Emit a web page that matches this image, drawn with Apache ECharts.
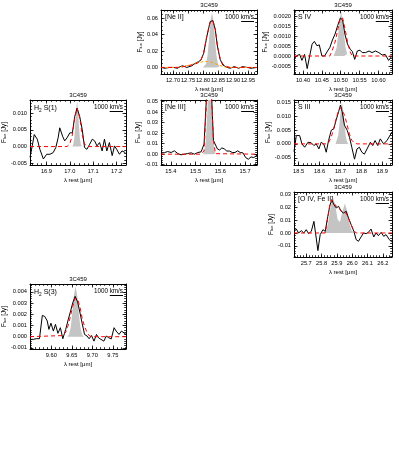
<!DOCTYPE html>
<html><head><meta charset="utf-8">
<script src="https://cdn.jsdelivr.net/npm/echarts/dist/echarts.min.js"></script>
<style>html,body{margin:0;padding:0;background:#fff}#c{width:399px;height:460px}</style>
</head><body><div id="c"></div>
<script>
// ---------------- DATA ----------------
// [Ne II]
const neII_wave = [12.660,12.673,12.688,12.701,12.715,12.724,12.732,12.746,12.763,12.774,12.785,12.793,12.802,12.813,12.824,12.833,12.841,12.848,12.857,12.866,12.880,12.891,12.904,12.919,12.932,12.947,12.960,12.980];
const neII_flux = [0.000,-0.001,0.000,0.000,-0.001,0.001,0.002,0.000,0.002,0.005,0.007,0.009,0.017,0.038,0.056,0.057,0.046,0.026,0.010,0.003,0.000,-0.001,0.001,-0.001,0.001,0.000,-0.001,0.000];
const neII_fitWave = [12.660,12.724,12.746,12.763,12.774,12.785,12.793,12.802,12.813,12.824,12.833,12.841,12.848,12.857,12.866,12.880,12.891,12.980];
const neII_fitFlux = [0,0,0.002,0.003,0.004,0.006,0.009,0.017,0.039,0.055,0.057,0.047,0.027,0.011,0.004,0.001,0,0];
const neII_broadWave = [12.660,12.700,12.724,12.745,12.765,12.785,12.800,12.815,12.830,12.845,12.860,12.875,12.890,12.980];
const neII_broadFlux = [0,0,0.0003,0.002,0.004,0.006,0.007,0.0072,0.006,0.004,0.002,0.0005,0,0];
const neII_instWave = [12.800,12.805,12.810,12.815,12.820,12.825,12.830,12.835,12.840,12.845,12.850,12.855,12.860];
const neII_instFlux = [0.0001,0.0009,0.0042,0.0141,0.0335,0.0564,0.067,0.0564,0.0335,0.0141,0.0042,0.0009,0.0001];
const neII_xTicks = [12.70,12.75,12.80,12.85,12.90,12.95];
const neII_yTicks = [0,0.02,0.04,0.06];

// S IV
const sIV_wave = [10.376,10.382,10.391,10.397,10.404,10.411,10.417,10.424,10.430,10.437,10.443,10.450,10.457,10.465,10.471,10.478,10.485,10.492,10.499,10.505,10.511,10.518,10.525,10.531,10.537,10.544,10.551,10.557,10.566,10.575,10.583,10.592,10.601,10.610,10.618,10.627,10.636];
const sIV_flux = [-0.00017,0.00000,0.00008,-0.00022,0.00008,-0.00063,-0.00005,0.00059,0.00073,0.00051,0.00056,0.00000,0.00000,0.00025,0.00042,0.00080,0.00110,0.00153,0.00190,0.00180,0.00110,0.00059,0.00034,0.00022,-0.00017,0.00025,0.00029,0.00017,0.00017,0.00025,0.00017,0.00025,0.00017,0.00005,0.00008,-0.00022,0.00000];
const sIV_fitWave = [10.376,10.471,10.478,10.485,10.492,10.499,10.505,10.511,10.518,10.525,10.531,10.636];
const sIV_fitFlux = [0,0,0.0003,0.0007,0.0013,0.0019,0.0019,0.0014,0.0007,0.0002,0,0];
const sIV_instWave = [10.481,10.485,10.489,10.493,10.497,10.501,10.505,10.509,10.513,10.517,10.521];
const sIV_instFlux = [0,0.0001,0.0004,0.00103,0.00182,0.0022,0.00182,0.00103,0.0004,0.0001,0];
const sIV_xTicks = [10.40,10.45,10.50,10.55,10.60];
const sIV_yTicks = [-0.0005,0,0.0005,0.0010,0.0015,0.0020];

// H2 S(1)
const h2s1_wave = [16.830,16.840,16.848,16.861,16.872,16.887,16.901,16.915,16.929,16.940,16.950,16.957,16.969,16.978,16.988,17.000,17.011,17.021,17.031,17.042,17.053,17.063,17.073,17.085,17.096,17.106,17.116,17.127,17.138,17.148,17.158,17.169,17.181,17.191,17.200,17.212,17.223,17.237];
const h2s1_flux = [-0.0032,0.0004,0.0036,0.0022,-0.0008,-0.0037,-0.0023,-0.0023,-0.0018,-0.0003,0.0026,0.0056,0.0031,0.0017,0.0026,0.0041,0.0041,0.0090,0.0115,0.0090,0.0051,-0.0003,-0.0008,0.0007,0.0022,0.0017,0.0002,0.0012,-0.0013,0.0022,-0.0013,0.0012,-0.0027,0.0002,-0.0008,-0.0023,-0.0013,-0.0018];
const h2s1_fitWave = [16.830,16.988,17.000,17.011,17.021,17.031,17.042,17.053,17.063,17.073,17.240];
const h2s1_fitFlux = [0,0,0.0008,0.0035,0.0085,0.0115,0.0088,0.0035,0.0008,0,0];
const h2s1_instWave = [17.011,17.015,17.019,17.023,17.027,17.031,17.035,17.039,17.043,17.047,17.051];
const h2s1_instFlux = [0.0001,0.0007,0.0024,0.0063,0.0111,0.0134,0.0111,0.0063,0.0024,0.0007,0.0001];
const h2s1_xTicks = [16.9,17.0,17.1,17.2];
const h2s1_yTicks = [-0.005,0,0.005,0.010];

// [Ne III]
const neIII_wave = [15.360,15.374,15.387,15.401,15.414,15.428,15.441,15.455,15.468,15.482,15.495,15.509,15.522,15.534,15.545,15.555,15.564,15.572,15.580,15.588,15.597,15.606,15.616,15.626,15.637,15.648,15.659,15.670,15.680,15.691,15.702,15.713,15.724,15.735,15.748];
const neIII_flux = [0.0010,0.0015,0.0025,0.0016,0.0032,0.0006,-0.0006,0.0000,0.0006,0.0013,0.0000,0.0016,0.0022,0.0096,0.0600,0.0700,0.0580,0.0130,0.0120,0.0050,0.0040,0.0060,0.0050,0.0030,0.0030,0.0016,0.0016,0.0032,0.0016,0.0013,-0.0032,-0.0048,-0.0026,-0.0032,-0.0010];
const neIII_fitWave = [15.360,15.522,15.534,15.545,15.555,15.564,15.572,15.580,15.748];
const neIII_fitFlux = [0,0,0.0030,0.0550,0.0700,0.0560,0.0130,0.0005,0];
const neIII_instWave = [15.531,15.536,15.541,15.546,15.551,15.556,15.561,15.566,15.571,15.576,15.581];
const neIII_instFlux = [0.0006,0.0033,0.0129,0.0344,0.0617,0.075,0.0617,0.0344,0.0129,0.0033,0.0006];
const neIII_xTicks = [15.4,15.5,15.6,15.7];
const neIII_yTicks = [-0.01,0,0.01,0.02,0.03,0.04,0.05];

// S III
const sIII_wave = [18.478,18.489,18.505,18.516,18.529,18.545,18.560,18.573,18.584,18.597,18.608,18.621,18.632,18.643,18.656,18.668,18.679,18.691,18.700,18.708,18.719,18.732,18.743,18.754,18.767,18.779,18.790,18.802,18.814,18.827,18.843,18.854,18.865,18.878,18.890,18.906,18.922,18.946];
const sIII_flux = [-0.0028,0.0030,0.0030,0.0000,-0.0012,0.0006,0.0004,-0.0006,0.0000,-0.0018,0.0006,-0.0002,-0.0030,0.0012,0.0049,0.0055,0.0085,0.0116,0.0140,0.0116,0.0067,0.0049,0.0024,-0.0012,-0.0055,-0.0018,-0.0012,-0.0030,-0.0037,-0.0018,0.0006,-0.0006,0.0012,-0.0006,0.0018,0.0000,0.0012,0.0043];
const sIII_fitWave = [18.478,18.632,18.643,18.656,18.668,18.679,18.691,18.700,18.708,18.719,18.732,18.743,18.754,18.767,18.779,18.946];
const sIII_fitFlux = [0,0,0.0004,0.0025,0.0055,0.0090,0.0120,0.0130,0.0128,0.0105,0.0068,0.0035,0.0013,0.0003,0,0];
const sIII_instWave = [18.677,18.683,18.689,18.695,18.701,18.707,18.713,18.719,18.725,18.731,18.737];
const sIII_instFlux = [0.0002,0.0008,0.0029,0.0072,0.0123,0.0148,0.0123,0.0072,0.0029,0.0008,0.0002];
const sIII_xTicks = [18.5,18.6,18.7,18.8,18.9];
const sIII_yTicks = [-0.005,0,0.005,0.010,0.015];

// [O IV, Fe II]
const oIV_wave = [25.620,25.635,25.650,25.668,25.684,25.700,25.715,25.733,25.750,25.765,25.776,25.791,25.809,25.824,25.841,25.854,25.867,25.880,25.896,25.911,25.928,25.943,25.961,25.976,25.993,26.011,26.026,26.041,26.058,26.074,26.091,26.106,26.123,26.141,26.156,26.171,26.189,26.206,26.221,26.243,26.260];
const oIV_flux = [0.0031,0.0031,0.0000,0.0018,0.0000,0.0026,-0.0005,0.0013,0.0091,-0.0039,-0.0138,-0.0013,0.0026,0.0013,0.0131,0.0214,0.0261,0.0222,0.0196,0.0209,0.0170,0.0157,0.0170,0.0117,0.0065,0.0013,-0.0052,-0.0065,-0.0031,0.0000,-0.0005,0.0005,0.0031,-0.0031,0.0000,-0.0021,0.0005,-0.0026,-0.0013,-0.0052,-0.0073];
const oIV_fitWave = [25.620,25.824,25.841,25.854,25.867,25.880,25.896,25.911,25.928,25.943,25.961,25.976,25.993,26.011,26.026,26.260];
const oIV_fitFlux = [0,0,0.0120,0.0220,0.0260,0.0235,0.0210,0.0195,0.0175,0.0160,0.0155,0.0115,0.0065,0.0020,0,0];
const oIV_instWave = [25.815,25.830,25.845,25.860,25.875,25.890,25.905,25.920,25.935,25.952,25.967,25.982,25.997,26.012];
const oIV_instFlux = [0.0003,0.0022,0.0091,0.0211,0.0280,0.0213,0.0106,0.0086,0.0163,0.0230,0.0174,0.0075,0.0018,0.0003];
const oIV_xTicks = [25.7,25.8,25.9,26.0,26.1,26.2];
const oIV_yTicks = [-0.01,0,0.01,0.02,0.03];

// H2 S(3)
const h2s3_wave = [9.548,9.556,9.563,9.571,9.578,9.584,9.590,9.594,9.599,9.605,9.610,9.616,9.622,9.628,9.635,9.641,9.647,9.652,9.658,9.664,9.670,9.675,9.681,9.687,9.692,9.698,9.704,9.710,9.715,9.721,9.728,9.734,9.740,9.746,9.753,9.758,9.765,9.771,9.782];
const h2s3_flux = [-0.00024,-0.00024,-0.00018,-0.00018,0.0019,0.0018,0.0014,0.00065,0.0012,0.0005,0.0011,0.0003,0.0008,-0.00018,0.00065,0.0015,0.0023,0.0030,0.0036,0.0031,0.0021,0.0012,0.0002,0.00006,-0.00018,0.0001,-0.0004,0.0002,-0.0001,-0.00024,-0.0004,0.00006,-0.0001,-0.0002,0.0008,0.0005,0.0002,0.0005,0.0002];
const h2s3_fitWave = [9.548,9.628,9.635,9.641,9.647,9.652,9.658,9.664,9.670,9.675,9.681,9.687,9.692,9.698,9.782];
const h2s3_fitFlux = [0,0.0001,0.0004,0.0010,0.0019,0.0027,0.0034,0.0034,0.0026,0.0017,0.0009,0.0004,0.0001,0,0];
const h2s3_instWave = [9.639,9.643,9.647,9.651,9.655,9.659,9.663,9.667,9.671,9.675,9.679];
const h2s3_instFlux = [0,0.0002,0.0008,0.0021,0.0037,0.0045,0.0037,0.0021,0.0008,0.0002,0];
const h2s3_xTicks = [9.60,9.65,9.70,9.75];
const h2s3_yTicks = [-0.001,0,0.001,0.002,0.003,0.004];

const objectName = '3C459';
const scaleVelocity = 1000; // km/s

// ---------------- LAYOUT ----------------
const FONT = '"Liberation Sans", Arial, sans-serif';
const TICK_FS = 5.7;
const C_KMS = 299792.458;
const panels = [
  {label:'[Ne II]', lam:12.814, box:[161,10,96,64], xr:[12.660,12.980], yr:[-0.008,0.070], xdec:2, ydec:2, xm:0.01, ym:0.005,
   obs:[neII_wave,neII_flux], fit:[neII_fitWave,neII_fitFlux], inst:[neII_instWave,neII_instFlux], broad:[neII_broadWave,neII_broadFlux], xt:neII_xTicks, yt:neII_yTicks},
  {label:'S IV', lam:10.511, box:[294,10,98,64], xr:[10.376,10.636], yr:[-0.0009,0.0023], xdec:2, ydec:4, xm:0.01, ym:0.0001,
   obs:[sIV_wave,sIV_flux], fit:[sIV_fitWave,sIV_fitFlux], inst:[sIV_instWave,sIV_instFlux], xt:sIV_xTicks, yt:sIV_yTicks},
  {label:'{n|H}{s|2}{n| S(1)}', lam:17.035, box:[30,100,96,65], xr:[16.830,17.240], yr:[-0.0055,0.0139], xdec:1, ydec:3, xm:0.02, ym:0.001,
   obs:[h2s1_wave,h2s1_flux], fit:[h2s1_fitWave,h2s1_fitFlux], inst:[h2s1_instWave,h2s1_instFlux], xt:h2s1_xTicks, yt:h2s1_yTicks},
  {label:'[Ne III]', lam:15.555, box:[161,100,96,65], xr:[15.360,15.748], yr:[-0.0103,0.0516], xdec:1, ydec:2, xm:0.02, ym:0.002,
   obs:[neIII_wave,neIII_flux], fit:[neIII_fitWave,neIII_fitFlux], inst:[neIII_instWave,neIII_instFlux], xt:neIII_xTicks, yt:neIII_yTicks},
  {label:'S III', lam:18.713, box:[294,100,98,65], xr:[18.478,18.946], yr:[-0.0076,0.0158], xdec:1, ydec:3, xm:0.02, ym:0.001,
   obs:[sIII_wave,sIII_flux], fit:[sIII_fitWave,sIII_fitFlux], inst:[sIII_instWave,sIII_instFlux], xt:sIII_xTicks, yt:sIII_yTicks},
  {label:'[O IV, Fe II]', lam:25.94, box:[294,192,98,65], xr:[25.620,26.260], yr:[-0.0188,0.0321], xdec:1, ydec:2, xm:0.02, ym:0.002,
   obs:[oIV_wave,oIV_flux], fit:[oIV_fitWave,oIV_fitFlux], inst:[oIV_instWave,oIV_instFlux], xt:oIV_xTicks, yt:oIV_yTicks},
  {label:'{n|H}{s|2}{n| S(3)}', lam:9.665, box:[30,284,96,65], xr:[9.548,9.782], yr:[-0.0011,0.0047], xdec:2, ydec:3, xm:0.01, ym:0.0002,
   obs:[h2s3_wave,h2s3_flux], fit:[h2s3_fitWave,h2s3_fitFlux], inst:[h2s3_instWave,h2s3_instFlux], xt:h2s3_xTicks, yt:h2s3_yTicks}
];

function zip(a,b){const n=Math.min(a.length,b.length);const r=[];for(let i=0;i<n;i++)r.push([a[i],b[i]]);return r;}
function minorVals(lo,hi,step){const v=[];const s=Math.ceil(lo/step-1e-6);for(let k=s;k*step<=hi+1e-12;k++){v.push(+(k*step).toFixed(8));}return v.filter(x=>x>lo&&x<hi);}

const grids=[], xAxes=[], yAxes=[], series=[], graphics=[];
const tickStyle={color:'#000',width:0.8};
panels.forEach(p=>{
  const [L,T,W,H]=p.box;
  const gMain=grids.length;
  grids.push({left:L,top:T,width:W,height:H,containLabel:false});
  grids.push({left:L,top:T,width:W,height:H,containLabel:false});
  const gMinor=gMain+1;
  const xMinorV=minorVals(p.xr[0],p.xr[1],p.xm), yMinorV=minorVals(p.yr[0],p.yr[1],p.ym);
  const xBottom=xAxes.length;
  ['bottom','top'].forEach(pos=>{
    xAxes.push({type:'value',gridIndex:gMain,position:pos,min:p.xr[0],max:p.xr[1],
      axisLine:{show:true,onZero:false,lineStyle:{color:'#000',width:1}},
      axisTick:{show:true,inside:true,length:3.5,lineStyle:tickStyle,customValues:p.xt},
      axisLabel:{show:pos==='bottom',customValues:p.xt,formatter:v=>v.toFixed(p.xdec),fontSize:TICK_FS,color:'#000',margin:3.5,fontFamily:FONT,hideOverlap:false},
      splitLine:{show:false},
      name:pos==='bottom'?'λ rest [μm]':'',nameLocation:'middle',nameGap:12,
      nameTextStyle:{fontSize:6,color:'#000',fontFamily:FONT}});
  });
  ['bottom','top'].forEach(pos=>{
    xAxes.push({type:'value',gridIndex:gMinor,position:pos,min:p.xr[0],max:p.xr[1],
      axisLine:{show:false,onZero:false},
      axisTick:{show:true,inside:true,length:1.8,lineStyle:tickStyle,customValues:xMinorV},
      axisLabel:{show:false},splitLine:{show:false}});
  });
  const yLeft=yAxes.length;
  ['left','right'].forEach(pos=>{
    yAxes.push({type:'value',gridIndex:gMain,position:pos,min:p.yr[0],max:p.yr[1],
      axisLine:{show:true,onZero:false,lineStyle:{color:'#000',width:1}},
      axisTick:{show:true,inside:true,length:3.5,lineStyle:tickStyle,customValues:p.yt},
      axisLabel:{show:pos==='left',customValues:p.yt,formatter:v=>v.toFixed(p.ydec),fontSize:TICK_FS,color:'#000',margin:3,fontFamily:FONT,hideOverlap:false},
      splitLine:{show:false},
      name:pos==='left'?'F{s|lux} [Jy]':'',nameLocation:'middle',nameRotate:90,nameGap:pos==='left'?(p.ydec===4?23:(p.ydec===3?21:18)):0,
      nameTextStyle:{fontSize:6.3,color:'#000',fontFamily:FONT,rich:{s:{fontSize:4.3,color:'#000',fontFamily:FONT,verticalAlign:'bottom'}}}});
  });
  ['left','right'].forEach(pos=>{
    yAxes.push({type:'value',gridIndex:gMinor,position:pos,min:p.yr[0],max:p.yr[1],
      axisLine:{show:false,onZero:false},
      axisTick:{show:true,inside:true,length:1.8,lineStyle:tickStyle,customValues:yMinorV},
      axisLabel:{show:false},splitLine:{show:false}});
  });
  const common={type:'line',xAxisIndex:xBottom,yAxisIndex:yLeft,symbol:'none',silent:true,clip:true};
  series.push(Object.assign({},common,{data:zip(p.inst[0],p.inst[1]),lineStyle:{width:0},areaStyle:{color:'#c4c4c4',opacity:1,origin:0},z:1}));
  series.push(Object.assign({},common,{data:zip(p.obs[0],p.obs[1]),lineStyle:{color:'#000',width:1},z:3}));
  if(p.broad) series.push(Object.assign({},common,{data:zip(p.broad[0],p.broad[1]),lineStyle:{color:'#ffa500',width:1,type:[3,2]},z:4}));
  series.push(Object.assign({},common,{data:zip(p.fit[0],p.fit[1]),lineStyle:{color:'#ff0000',width:1,type:[4,3]},z:5}));
  // texts
  graphics.push({type:'text',x:L+W/2,y:T-1.5,style:{text:objectName,textAlign:'center',textVerticalAlign:'bottom',fontSize:6,fontFamily:FONT,fill:'#000'}});
  graphics.push({type:'text',x:L+4,y:T+4,style:{text:p.label,textAlign:'left',textVerticalAlign:'top',fontSize:7,fontFamily:FONT,fill:'#000',
    rich:{n:{fontSize:7,fontFamily:FONT,fill:'#000'},s:{fontSize:4.8,fontFamily:FONT,fill:'#000',padding:[4,0,0,0]}}}});
  graphics.push({type:'text',x:L+W-3,y:T+4.5,style:{text:scaleVelocity+' km/s',textAlign:'right',textVerticalAlign:'top',fontSize:6.3,fontFamily:FONT,fill:'#000'}});
  const barLen=(p.lam*scaleVelocity/C_KMS)/(p.xr[1]-p.xr[0])*W;
  graphics.push({type:'line',shape:{x1:L+W-3-barLen,y1:T+11.5,x2:L+W-3,y2:T+11.5},style:{stroke:'#000',lineWidth:1}});
});

const chart=echarts.init(document.getElementById('c'),null,{renderer:'canvas'});
chart.setOption({animation:false,backgroundColor:'#fff',grid:grids,xAxis:xAxes,yAxis:yAxes,series:series,graphic:{elements:graphics}});
</script></body></html>
